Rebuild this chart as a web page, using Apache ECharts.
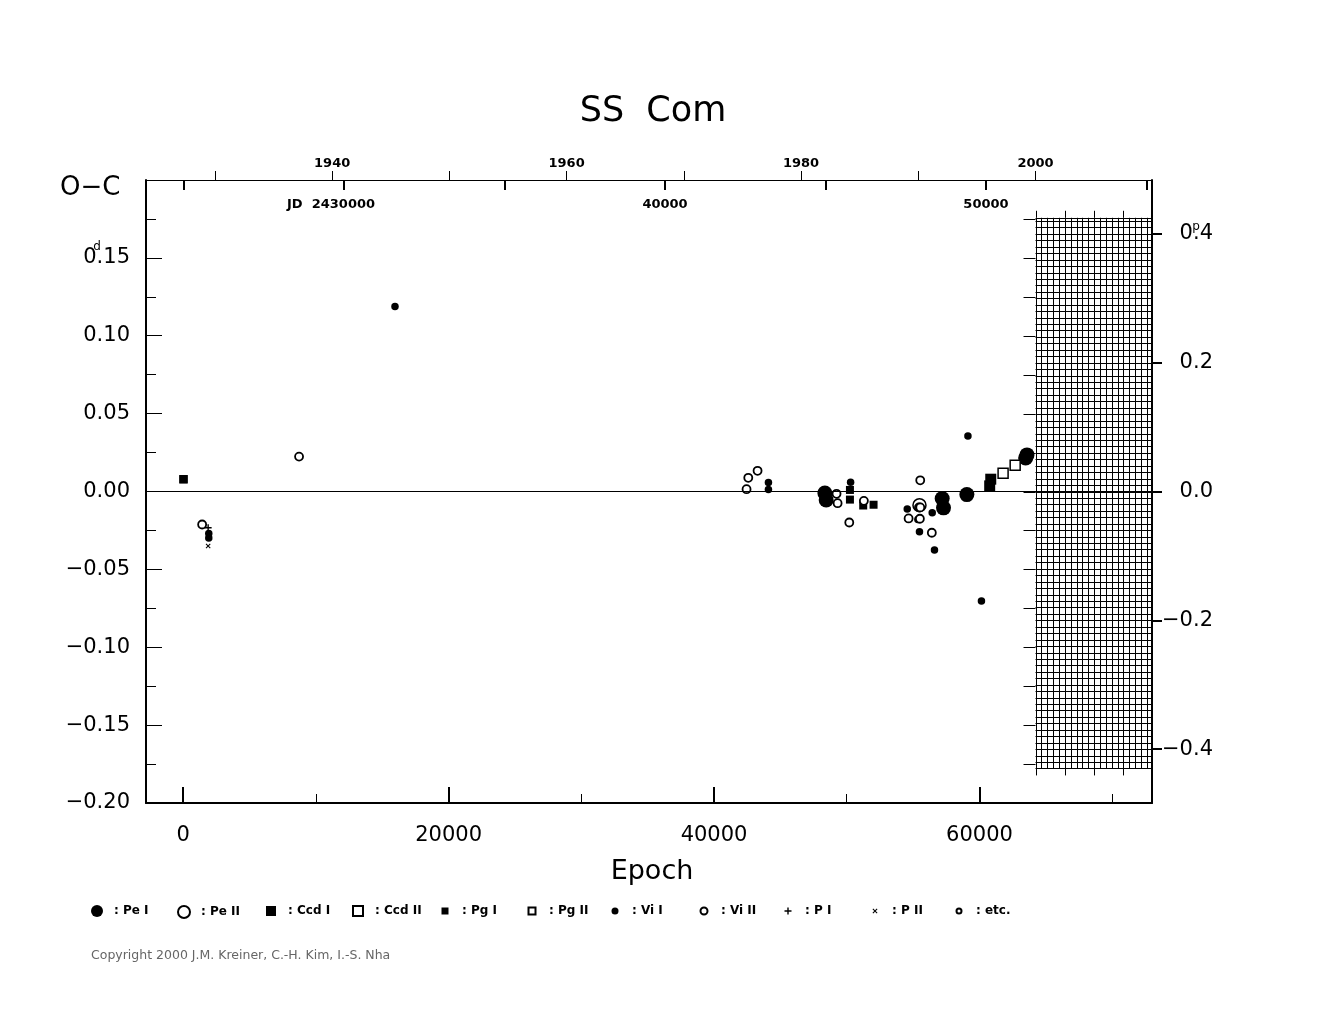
<!DOCTYPE html>
<html>
<head>
<meta charset="utf-8">
<title>SS Com</title>
<script src="https://cdn.jsdelivr.net/npm/echarts@6/dist/echarts.min.js"></script>
<style>
  html, body { margin: 0; padding: 0; background: #fff; }
  #chart { width: 1325px; height: 1020px; }
</style>
</head>
<body>
<div id="chart"></div>
<script>
// ephemeris used to hang the JD / year / phase scales on the epoch axis
var T0 = 24988.0;   // HJD - 2400000 at epoch 0
var P = 0.4135;     // period in days

var epochMin = -2800, epochMax = 73000;
var ocMin = -0.2, ocMax = 0.2;

// O-C points: [epoch, O-C (days)]
var peI = [[48350, -0.001], [48450, -0.0055], [57190, -0.0045], [57290, -0.0105], [59050, -0.002], [63480, 0.0215], [63580, 0.0235]];
var peII = [[55480, -0.0088]];
var ccdI = [[60770, 0.0036], [60850, 0.0079]];
var ccdII = [[61780, 0.0117], [62690, 0.0169]];
var pgI = [[25, 0.0079], [50240, 0.001], [50240, -0.0052], [51240, -0.009], [52020, -0.0085]];
var pgII = [[25, 0.0079]];
var viI = [[15960, 0.1188], [1930, -0.027], [1930, -0.0298], [44100, 0.0058], [44100, 0.0013], [50290, 0.006],
  [54560, -0.0113], [55360, -0.018], [55480, -0.0258], [56440, -0.0137], [56610, -0.0376], [59130, 0.0357], [60150, -0.0703]];
var viII = [[1430, -0.0212], [8733, 0.0224], [42450, 0.0015], [42580, 0.0088], [43280, 0.0133], [49230, -0.0015],
  [49310, -0.0075], [50190, -0.0199], [51290, -0.006], [54660, -0.0173], [55510, -0.0175], [55537, 0.0072],
  [56410, -0.0265], [55440, -0.0102], [55540, -0.0102]];
var pI = [[1882, -0.0233]];
var pII = [[1882, -0.035]];
var etc = [];

// tick lists
var epochTicks = [0, 20000, 40000, 60000];
var epochMinorTicks = [10000, 30000, 50000, 70000];
var yearTicks = [1930, 1940, 1950, 1960, 1970, 1980, 1990, 2000];
var yearLabels = [1940, 1960, 1980, 2000];
var jdTicks = [25000, 30000, 35000, 40000, 45000, 50000, 55000];
var jdLabels = [30000, 40000, 50000];
var phaseTicks = [-0.4, -0.2, 0, 0.2, 0.4];

// "future" hatched block (years x phase)
var hatchYear0 = 2000, hatchBottom = -0.43, hatchTop = 0.425;
var hatchTickYears = [2000, 2002.5, 2005, 2007.5];

function epochToYear(e) { return 2000 + (T0 + P * e - 51544.5) / 365.25; }
var yrMin = epochToYear(epochMin), yrMax = epochToYear(epochMax);

var FONT = 'DejaVu Sans';
var plusPath = 'path://M3.2,0H4.8V3.2H8V4.8H4.8V8H3.2V4.8H0V3.2H3.2Z';
var crossPath = 'path://M0,1.2L1.2,0L4,2.8L6.8,0L8,1.2L5.2,4L8,6.8L6.8,8L4,5.2L1.2,8L0,6.8L2.8,4Z';

var filled = { color: '#000', opacity: 1 };
var open = { color: '#fff', borderColor: '#000', borderWidth: 1.5, opacity: 1 };
var openThick = { color: '#fff', borderColor: '#000', borderWidth: 1.8, opacity: 1 };

function pts(name, data, symbol, size, style) {
  return {
    name: name, type: 'scatter', xAxisIndex: 0, yAxisIndex: 0,
    data: data, symbol: symbol, symbolSize: size, itemStyle: style,
    emphasis: { disabled: true }, silent: true, z: 3
  };
}

// legend: [name, centre x, icon size]
var legendItems = [
  ['Pe I', 97, 12], ['Pe II', 183, 12], ['Ccd I', 271, 10], ['Ccd II', 357, 10], ['Pg I', 445, 7],
  ['Pg II', 531, 7], ['Vi I', 615, 7], ['Vi II', 703, 7], ['P I', 788, 7], ['P II', 875, 5], ['etc.', 958, 5]
];
var legends = legendItems.map(function (it) {
  return {
    data: [it[0]], left: it[1] - it[2] / 2, top: 905, padding: 0,
    itemWidth: it[2], itemHeight: it[2], selectedMode: false,
    formatter: ': {name}',
    textStyle: { fontFamily: FONT, fontWeight: 'bold', fontSize: 12, lineHeight: 12, color: '#000',
      padding: [0, 0, 0, 17 - it[2] / 2 - 5] }
  };
});

var chart = echarts.init(document.getElementById('chart'));

var option = {
  animation: false,
  backgroundColor: '#fff',
  grid: { left: 146, top: 180, width: 1006, height: 623, outerBoundsMode: 'none' },
  legend: legends,
  xAxis: [
    { // epoch, bottom
      type: 'value', gridIndex: 0, position: 'bottom', min: epochMin, max: epochMax, z: 5,
      axisLine: { show: true, onZero: false, lineStyle: { color: '#000', width: 2 } },
      axisTick: { show: true, inside: true, length: 16, customValues: epochTicks, lineStyle: { color: '#000', width: 2 } },
      axisLabel: { customValues: epochTicks, margin: 22, fontFamily: FONT, fontSize: 21, color: '#000',
        formatter: function (v) { return String(v); } },
      splitLine: { show: false }
    },
    { // epoch minor ticks
      type: 'value', gridIndex: 0, position: 'bottom', min: epochMin, max: epochMax, z: 5,
      axisLine: { show: false, onZero: false },
      axisTick: { show: true, inside: true, length: 9, customValues: epochMinorTicks, lineStyle: { color: '#000', width: 1 } },
      axisLabel: { show: false },
      splitLine: { show: false }
    },
    { // calendar years, top
      type: 'value', gridIndex: 0, position: 'top', min: yrMin, max: yrMax, z: 5,
      axisLine: { show: true, onZero: false, lineStyle: { color: '#000', width: 1 } },
      axisTick: { show: true, inside: false, length: 9, customValues: yearTicks, lineStyle: { color: '#000', width: 1 } },
      axisLabel: { customValues: yearLabels, margin: 10, fontFamily: FONT, fontWeight: 'bold', fontSize: 13, color: '#000',
        formatter: function (v) { return String(v); } },
      splitLine: { show: false }
    },
    { // JD, top inside
      type: 'value', gridIndex: 0, position: 'top', min: T0 + P * epochMin, max: T0 + P * epochMax, z: 5,
      axisLine: { show: false, onZero: false },
      axisTick: { show: true, inside: true, length: 10, customValues: jdTicks, lineStyle: { color: '#000', width: 2 } },
      axisLabel: { inside: true, customValues: jdLabels, margin: 18, fontFamily: FONT, fontWeight: 'bold', fontSize: 13, color: '#000',
        formatter: function (v) { return v === 30000 ? '{j|JD  }2430000{g|}' : String(v); },
        rich: { j: { fontFamily: FONT, fontWeight: 'bold', fontSize: 13, color: '#000' }, g: { width: 26 } } },
      splitLine: { show: false }
    }
  ],
  yAxis: [
    { // O-C in days, left
      type: 'value', gridIndex: 0, position: 'left', min: ocMin, max: ocMax, interval: 0.05, z: 5,
      axisLine: { show: true, onZero: false, lineStyle: { color: '#000', width: 2 } },
      axisTick: { show: true, inside: true, length: 16, lineStyle: { color: '#000', width: 1 } },
      minorTick: { show: true, splitNumber: 2, length: 10, lineStyle: { color: '#000', width: 1 } },
      axisLabel: { margin: 16, fontFamily: FONT, fontSize: 21, color: '#000',
        formatter: function (v) {
          if (v > 0.19) return '';
          if (Math.abs(v) < 1e-9) return '0.00';
          return (v < 0 ? '\u2212' : '') + Math.abs(v).toFixed(2);
        } },
      splitLine: { show: false }
    },
    { // O-C in phase, right
      type: 'value', gridIndex: 0, position: 'right', min: ocMin / P, max: ocMax / P, z: 5,
      axisLine: { show: true, onZero: false, lineStyle: { color: '#000', width: 2 } },
      axisTick: { show: true, inside: false, length: 10, customValues: phaseTicks, lineStyle: { color: '#000', width: 2 } },
      axisLabel: { customValues: phaseTicks, margin: 61, align: 'right', fontFamily: FONT, fontSize: 21, color: '#000',
        formatter: function (v) {
          if (Math.abs(v) < 1e-9) return '0.0';
          return (v < 0 ? '\u2212' : '') + Math.abs(v).toFixed(1);
        } },
      splitLine: { show: false }
    }
  ],
  series: [
    {
      name: 'etc.', type: 'scatter', xAxisIndex: 0, yAxisIndex: 0, data: etc,
      symbol: 'circle', symbolSize: 5, itemStyle: open, silent: true, z: 1,
      markLine: {
        silent: true, symbol: ['none', 'none'], label: { show: false },
        lineStyle: { color: '#000', width: 1, type: 'solid', opacity: 1 },
        emphasis: { disabled: true },
        data: [{ yAxis: 0 }]
      }
    },
    pts('Pg II', pgII, 'rect', 7, open),
    pts('Pe I', peI, 'circle', 15, filled),
    pts('Pe II', peII, 'circle', 13, open),
    pts('Ccd I', ccdI, 'rect', 11, filled),
    pts('Ccd II', ccdII, 'rect', 10, open),
    pts('Pg I', pgI, 'rect', 8, filled),
    pts('Vi I', viI, 'circle', 7.5, filled),
    pts('Vi II', viII, 'circle', 8, openThick),
    pts('P I', pI, plusPath, 7, filled),
    pts('P II', pII, crossPath, 5, filled),
    {
      type: 'custom', xAxisIndex: 2, yAxisIndex: 1, z: 4, silent: true,
      data: [[hatchYear0, 0]],
      renderItem: function (params, api) {
        var kids = [];
        var c = function (x) { return Math.round(x) + 0.5; };
        var x0 = api.coord([hatchYear0, 0])[0];
        var x1 = api.coord([yrMax, 0])[0];
        var yT = api.coord([hatchYear0, hatchTop])[1];
        var yB = api.coord([hatchYear0, hatchBottom])[1];
        var ls = { stroke: '#000', lineWidth: 1 };
        kids.push({ type: 'rect', shape: { x: x0, y: yT, width: x1 - x0, height: yB - yT }, style: { fill: '#fff' } });
        for (var k = 0; hatchYear0 + k * 0.5 < yrMax - 0.05; k++) {
          var xx = c(api.coord([hatchYear0 + k * 0.5, 0])[0]);
          kids.push({ type: 'line', shape: { x1: xx, y1: yT, x2: xx, y2: yB }, style: ls });
        }
        for (var j = 0; hatchBottom + j * 0.01 <= hatchTop + 1e-9; j++) {
          var yy = c(api.coord([hatchYear0, hatchBottom + j * 0.01])[1]);
          kids.push({ type: 'line', shape: { x1: x0, y1: yy, x2: x1, y2: yy }, style: ls });
        }
        kids.push({ type: 'line', shape: { x1: x0, y1: c(yT), x2: x1, y2: c(yT) }, style: ls });
        // ticks round the block
        hatchTickYears.forEach(function (yr) {
          var tx = c(api.coord([yr, 0])[0]);
          kids.push({ type: 'line', shape: { x1: tx, y1: yT - 7, x2: tx, y2: yT }, style: ls });
          kids.push({ type: 'line', shape: { x1: tx, y1: yB, x2: tx, y2: yB + 7 }, style: ls });
        });
        for (var d = -0.175; d <= 0.1751; d += 0.025) {
          var ty = c(api.coord([hatchYear0, d / P])[1]);
          kids.push({ type: 'line', shape: { x1: x0 - 12, y1: ty, x2: x0, y2: ty }, style: ls });
        }
        return { type: 'group', children: kids };
      }
    }
  ],
  graphic: [
    { id: 'title', type: 'text', x: 653, y: 112,
      style: { text: 'SS  Com', font: '35px "DejaVu Sans"', fill: '#000', align: 'center', verticalAlign: 'middle', textAlign: 'center', textVerticalAlign: 'middle' } },
    { id: 'oc', type: 'text', x: 60, y: 188,
      style: { text: 'O\u2212C', font: '26px "DejaVu Sans"', fill: '#000', align: 'left', verticalAlign: 'middle', textAlign: 'left', textVerticalAlign: 'middle' } },
    { id: 'epoch', type: 'text', x: 652, y: 872,
      style: { text: 'Epoch', font: '27px "DejaVu Sans"', fill: '#000', align: 'center', verticalAlign: 'middle', textAlign: 'center', textVerticalAlign: 'middle' } },
    { id: 'copy', type: 'text', x: 91, y: 956,
      style: { text: 'Copyright 2000 J.M. Kreiner, C.-H. Kim, I.-S. Nha', font: '12.5px "DejaVu Sans"', fill: '#666', align: 'left', verticalAlign: 'middle', textAlign: 'left', textVerticalAlign: 'middle' } }
  ]
};

chart.setOption(option);

// unit marks above the 0.15 (days) and 0.4 (phase) labels
var yD = chart.convertToPixel({ yAxisIndex: 0 }, 0.15);
var yP = chart.convertToPixel({ yAxisIndex: 1 }, 0.4);
chart.setOption({
  graphic: [
    { id: 'supD', type: 'text', x: 97, y: yD - 11,
      style: { text: 'd', font: '12px "DejaVu Sans"', fill: '#000', align: 'center', verticalAlign: 'middle', textAlign: 'center', textVerticalAlign: 'middle' } },
    { id: 'supP', type: 'text', x: 1196, y: yP - 7,
      style: { text: 'p', font: '12px "DejaVu Sans"', fill: '#000', align: 'center', verticalAlign: 'middle', textAlign: 'center', textVerticalAlign: 'middle' } }
  ]
});
</script>
</body>
</html>
